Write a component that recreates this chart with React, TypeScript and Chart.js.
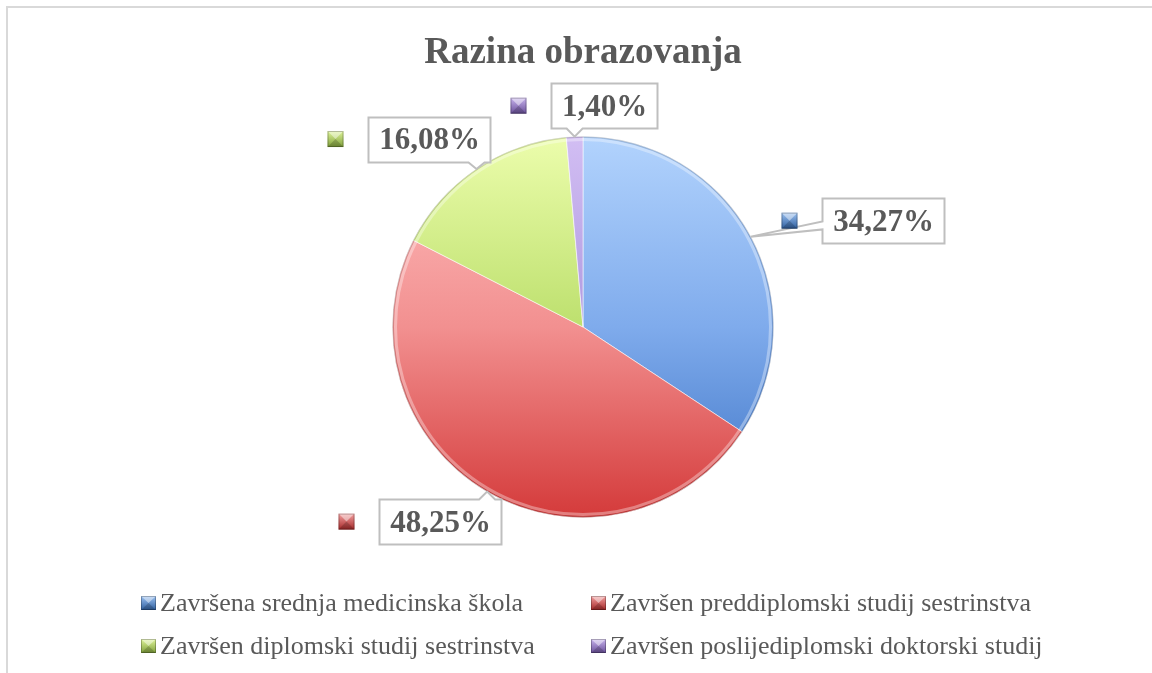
import React, { useEffect, useRef } from "react";
import { Chart, registerables } from "chart.js";

Chart.register(...registerables);

// ---- data ----
const chartTitle = "Razina obrazovanja";
const categories = [
  "Završena srednja medicinska škola",
  "Završen preddiplomski studij sestrinstva",
  "Završen diplomski studij sestrinstva",
  "Završen poslijediplomski doktorski studij",
];
const values = [34.27, 48.25, 16.08, 1.4];

// ---- styles ----
const sliceLight = ["#b2d3fd", "#ffc0c0", "#ecfdac", "#d2bef3"];
const sliceMid = ["#7fabec", "#f29090", "#bde06e", "#b09ae0"];
const sliceDark = ["#3b72c4", "#d43a3a", "#9cc34c", "#8a6cc0"];
const markerLight = ["#9cc2f2", "#f4a0a0", "#dff59a", "#c8b4ee"];
const markerDark = ["#2f5f9f", "#a52828", "#7f9f3a", "#6a4f9a"];
// label box offsets from the slice's outer-edge midpoint (px)
const labelOffsets = [
  [132, -16],
  [-47, 30],
  [-48, -30],
  [29, -31],
];
const textColor = "#595959";
const labelFont = "bold 31px 'Liberation Serif', 'Times New Roman', serif";
const titleFont = "bold 37px 'Liberation Serif', 'Times New Roman', serif";
const legendFont = "26px 'Liberation Serif', 'Times New Roman', serif";
const legendCols = [141, 591];
const legendRows = [603, 646];

const fmt = (v: number) => v.toFixed(2).replace(".", ",") + "%";

function drawMarker(ctx: CanvasRenderingContext2D, x: number, y: number, w: number, h: number, light: string, dark: string) {
  const g = ctx.createLinearGradient(0, y, 0, y + h);
  g.addColorStop(0, light);
  g.addColorStop(1, dark);
  ctx.fillStyle = g;
  ctx.fillRect(x, y, w, h);
  const cx = x + w / 2;
  const cy = y + h / 2;
  ctx.fillStyle = "rgba(255,255,255,0.45)";
  ctx.beginPath();
  ctx.moveTo(x, y);
  ctx.lineTo(x + w, y);
  ctx.lineTo(cx, cy);
  ctx.closePath();
  ctx.fill();
  ctx.fillStyle = "rgba(0,0,0,0.18)";
  ctx.beginPath();
  ctx.moveTo(x, y + h);
  ctx.lineTo(x + w, y + h);
  ctx.lineTo(cx, cy);
  ctx.closePath();
  ctx.fill();
  ctx.strokeStyle = "rgba(0,0,0,0.25)";
  ctx.lineWidth = 1;
  ctx.strokeRect(x + 0.5, y + 0.5, w - 1, h - 1);
}

const decorPlugin = {
  id: "decor",
  beforeDraw(chart: any) {
    const ctx: CanvasRenderingContext2D = chart.ctx;
    ctx.save();
    ctx.fillStyle = "#ffffff";
    ctx.fillRect(0, 0, chart.width, chart.height);
    ctx.strokeStyle = "#d9d9d9";
    ctx.lineWidth = 2;
    ctx.strokeRect(7, 7, chart.width + 50, chart.height + 50);
    const a = chart.chartArea;
    ctx.fillStyle = textColor;
    ctx.font = titleFont;
    ctx.textAlign = "center";
    ctx.textBaseline = "alphabetic";
    ctx.fillText(chartTitle, (a.left + a.right) / 2, 63);
    ctx.restore();
  },
  afterDatasetsDraw(chart: any) {
    const ctx: CanvasRenderingContext2D = chart.ctx;
    const meta = chart.getDatasetMeta(0);
    ctx.save();
    const first = meta.data[0];
    if (first) {
      ctx.strokeStyle = "rgba(0,0,0,0.15)";
      ctx.lineWidth = 1.5;
      ctx.beginPath();
      ctx.arc(first.x, first.y, first.outerRadius - 0.5, 0, Math.PI * 2);
      ctx.stroke();
      ctx.strokeStyle = "rgba(255,255,255,0.35)";
      ctx.lineWidth = 3;
      ctx.beginPath();
      ctx.arc(first.x, first.y, first.outerRadius - 3, 0, Math.PI * 2);
      ctx.stroke();
    }
    meta.data.forEach((arc: any, i: number) => {
      const mid = (arc.startAngle + arc.endAngle) / 2;
      const ax = arc.x + Math.cos(mid) * arc.outerRadius;
      const ay = arc.y + Math.sin(mid) * arc.outerRadius;
      const cx = ax + labelOffsets[i][0];
      const cy = ay + labelOffsets[i][1];
      const text = fmt(values[i]);
      ctx.font = labelFont;
      const tw = ctx.measureText(text).width;
      const bw = Math.round(tw + 21);
      const bh = 45;
      const L = Math.round(cx - bw / 2) + 0.5;
      const R = L + bw;
      const T = Math.round(cy - bh / 2) + 0.5;
      const B = T + bh;
      const pts: number[][] = [];
      if (ay < T) {
        const bx = Math.min(Math.max(ax, L + 12), R - 12);
        pts.push([L, T], [bx - 8, T], [ax, ay], [bx + 8, T], [R, T], [R, B], [L, B]);
      } else if (ay > B) {
        const bx = Math.min(Math.max(ax, L + 12), R - 12);
        pts.push([L, T], [R, T], [R, B], [bx + 8, B], [ax, ay], [bx - 8, B], [L, B]);
      } else if (ax < L) {
        const by = cy + (ay - cy) * 0.3;
        pts.push([L, T], [R, T], [R, B], [L, B], [L, by + 4], [ax, ay], [L, by - 4]);
      } else {
        const by = cy + (ay - cy) * 0.3;
        pts.push([L, T], [R, T], [R, by - 4], [ax, ay], [R, by + 4], [R, B], [L, B]);
      }
      ctx.beginPath();
      pts.forEach((p, k) => (k === 0 ? ctx.moveTo(p[0], p[1]) : ctx.lineTo(p[0], p[1])));
      ctx.closePath();
      ctx.fillStyle = "#ffffff";
      ctx.fill();
      ctx.strokeStyle = "#bfbfbf";
      ctx.lineWidth = 2;
      ctx.lineJoin = "miter";
      ctx.stroke();
      ctx.fillStyle = textColor;
      ctx.textAlign = "center";
      ctx.textBaseline = "middle";
      ctx.fillText(text, (L + R) / 2, cy + 2);
      drawMarker(ctx, L - 41, cy - 8, 16, 16, markerLight[i], markerDark[i]);
    });
    ctx.font = legendFont;
    ctx.textAlign = "left";
    ctx.textBaseline = "middle";
    categories.forEach((name, i) => {
      const x = legendCols[i % 2];
      const y = legendRows[Math.floor(i / 2)];
      drawMarker(ctx, x, y - 7, 15, 14, markerLight[i], markerDark[i]);
      ctx.fillStyle = textColor;
      ctx.fillText(name, x + 19, y + 1);
    });
    ctx.restore();
  },
};

export default function App() {
  const ref = useRef<HTMLCanvasElement | null>(null);
  useEffect(() => {
    const canvas = ref.current;
    if (!canvas) return;
    const chart = new Chart(canvas, {
      type: "pie",
      data: {
        labels: categories,
        datasets: [
          {
            data: values,
            backgroundColor: (c: any) => {
              const i = c.dataIndex ?? 0;
              const a = c.chart.chartArea;
              if (!a) return sliceMid[i];
              const g = c.chart.ctx.createLinearGradient(0, a.top, 0, a.bottom);
              g.addColorStop(0, sliceLight[i]);
              g.addColorStop(0.5, sliceMid[i]);
              g.addColorStop(1, sliceDark[i]);
              return g;
            },
            borderColor: "rgba(255,255,255,0.55)",
            borderWidth: 1,
          },
        ],
      },
      options: {
        responsive: false,
        animation: false,
        layout: { padding: { left: 392, right: 378, top: 136, bottom: 155 } },
        plugins: {
          legend: { display: false },
          tooltip: { enabled: false },
          title: { display: false },
        },
      },
      plugins: [decorPlugin],
    });
    return () => chart.destroy();
  }, []);
  return (
    <div style={{ position: "fixed", left: 0, top: 0, width: 1152, height: 673, background: "#fff" }}>
      <canvas ref={ref} width={1152} height={673} style={{ display: "block" }} />
    </div>
  );
}
